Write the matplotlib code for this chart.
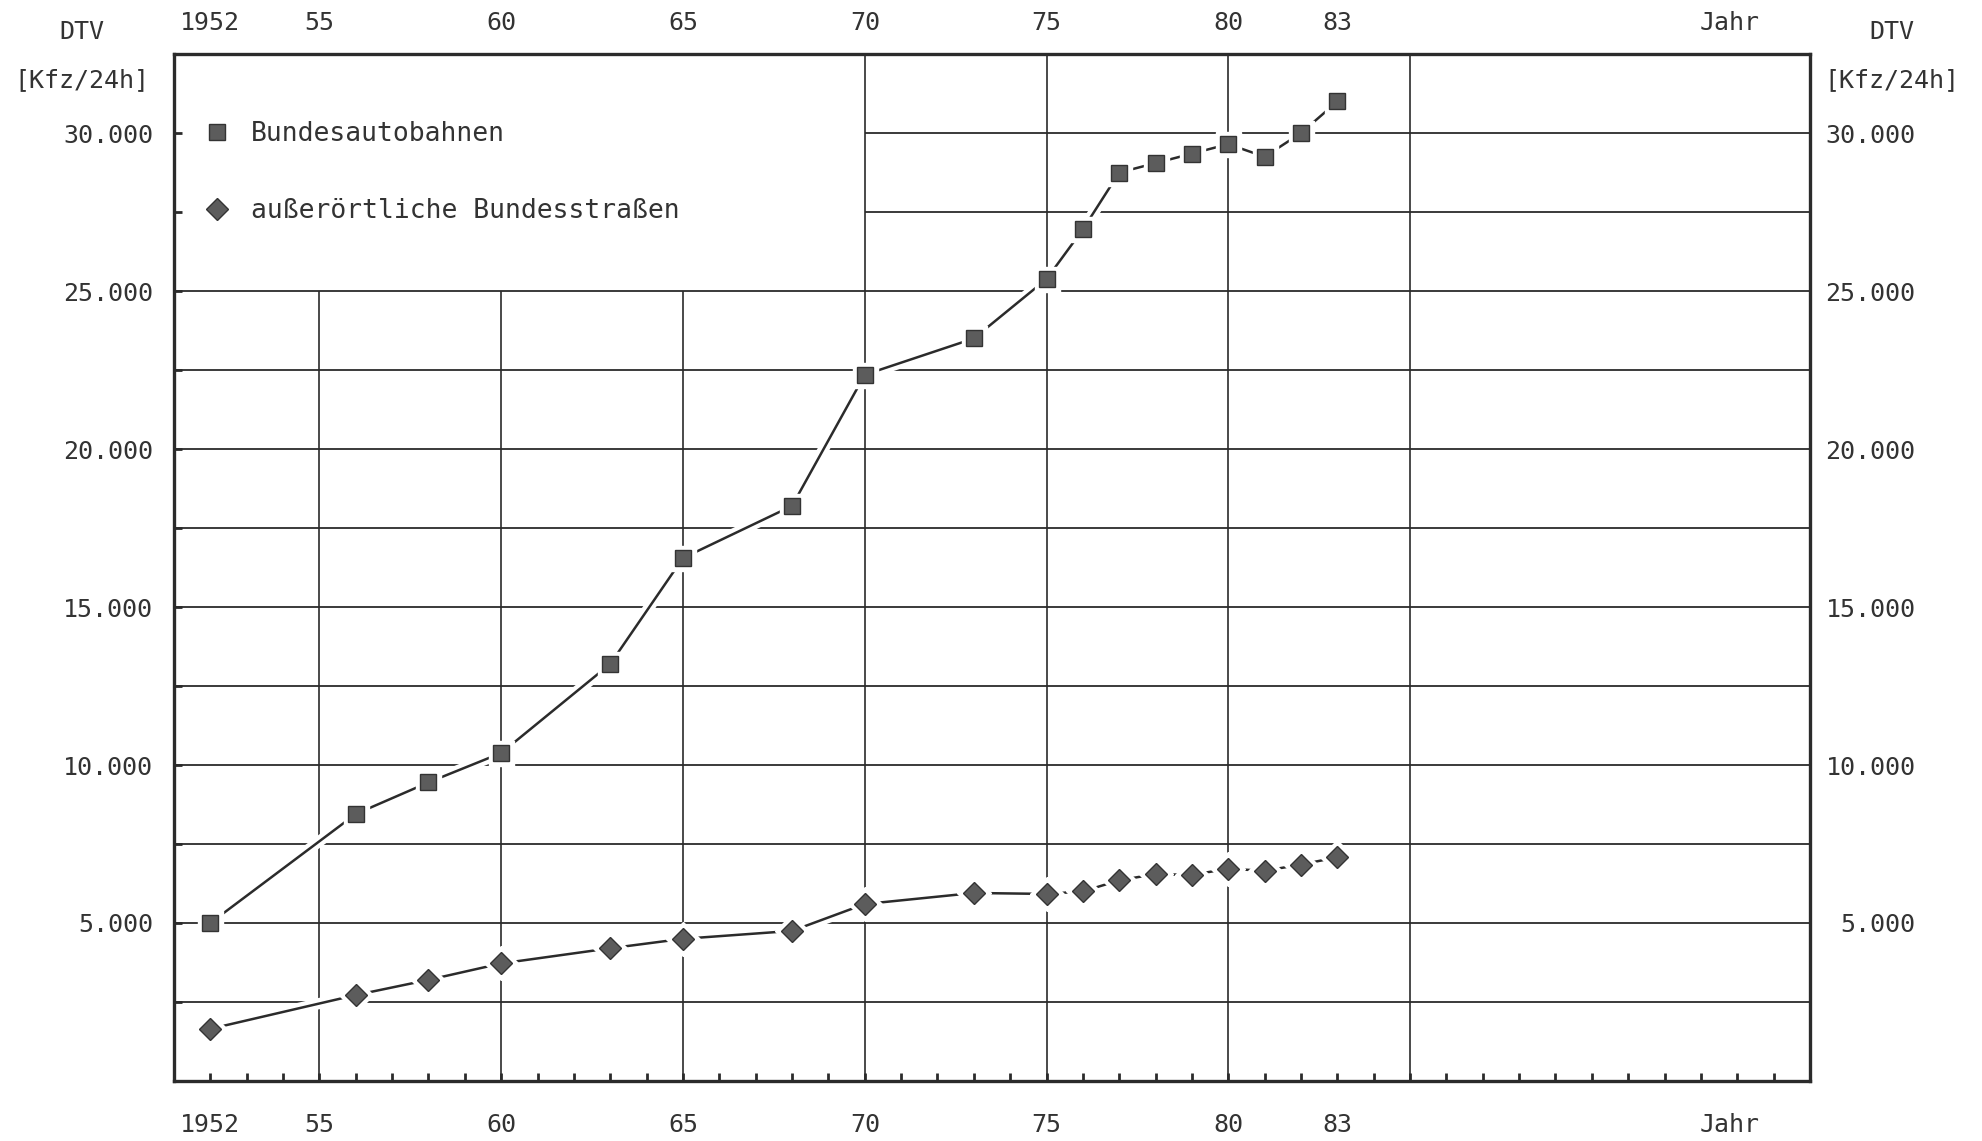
import matplotlib
matplotlib.use("Agg")
import matplotlib.pyplot as plt
import matplotlib.patheffects as pe
from matplotlib.lines import Line2D
from matplotlib.transforms import blended_transform_factory

plt.rcParams['font.family'] = ['DejaVu Sans Mono', 'DejaVu Sans']

# Daten: DTV [Kfz/24h]
jahre = [1952, 1956, 1958, 1960, 1963, 1965, 1968, 1970, 1973, 1975,
         1976, 1977, 1978, 1979, 1980, 1981, 1982, 1983]
autobahn = [5000, 8450, 9450, 10380, 13200, 16550, 18200, 22350, 23500, 25380,
            26950, 28750, 29050, 29350, 29650, 29250, 30000, 31000]
bundesstr = [1650, 2720, 3200, 3720, 4200, 4500, 4750, 5600, 5950, 5920,
             6000, 6350, 6550, 6520, 6720, 6650, 6850, 7080]

x_labels_pos = [1952, 1955, 1960, 1965, 1970, 1975, 1980, 1983]
x_labels = ['1952', '55', '60', '65', '70', '75', '80', '83']
y_labels_pos = [5000, 10000, 15000, 20000, 25000, 30000]
y_labels = ['5.000', '10.000', '15.000', '20.000', '25.000', '30.000']
y_grid = [2500, 5000, 7500, 10000, 12500, 15000, 17500, 20000, 22500, 25000]
y_grid_short = [27500, 30000]
x_grid_short = [1955, 1960, 1965]
x_grid = [1970, 1975, 1980, 1985]

ink = '#2b2b2b'
txt = '#333333'
fs = 18

fig = plt.figure(figsize=(19.82, 11.41), dpi=100)
ax = fig.add_axes([0.0878, 0.0526, 0.8254, 0.900])
ax.set_xlim(1951, 1996)
ax.set_ylim(0, 32500)

# Gitter
ax.hlines(y_grid, 1951, 1996, color=ink, lw=1.3, zorder=1)
ax.hlines(y_grid_short, 1970, 1996, color=ink, lw=1.3, zorder=1)
ax.vlines(x_grid_short, 0, 25000, color=ink, lw=1.2, zorder=1)
ax.vlines(x_grid, 0, 32500, color=ink, lw=1.2, zorder=1)

halo = [pe.Stroke(linewidth=8, foreground='white'), pe.Normal()]
for vals, mk, ms in [(autobahn, 's', 12), (bundesstr, 'D', 11)]:
    ax.plot(jahre, vals, color=ink, lw=1.8, zorder=3, path_effects=halo)
    ax.plot(jahre, vals, ls='none', marker=mk, ms=ms + 6, color='white',
            zorder=4)
    ax.plot(jahre, vals, ls='none', marker=mk, ms=ms, mfc='#5c5c5c',
            mec='#333333', mew=1.0, zorder=5)

# Achsen
for s in ax.spines.values():
    s.set_linewidth(2.4)
    s.set_color(ink)
    s.set_zorder(6)

ax.set_xticks(x_labels_pos, x_labels)
ax.set_xticks(range(1952, 1996), minor=True)
ax.set_yticks(y_labels_pos, y_labels)
ax.set_yticks(y_grid + y_grid_short, minor=True)
ax.tick_params(axis='x', which='both', direction='in', top=True, bottom=True,
               length=6, width=2, color=ink)
ax.tick_params(axis='x', which='major', labelsize=fs, pad=23, labelcolor=txt)
ax.tick_params(axis='y', which='both', direction='in', left=True, right=True,
               length=6, width=2, color=ink)
ax.tick_params(axis='y', which='major', labelsize=fs, pad=15, labelcolor=txt)

top = ax.twiny()
top.set_xlim(ax.get_xlim())
top.set_xticks(x_labels_pos, x_labels)
top.tick_params(axis='x', length=0, labelsize=fs, pad=14, labelcolor=txt)
for s in top.spines.values():
    s.set_visible(False)

right = ax.twinx()
right.set_ylim(ax.get_ylim())
right.set_yticks(y_labels_pos, y_labels)
right.tick_params(axis='y', length=0, labelsize=fs, pad=76, labelcolor=txt)
for lab in right.get_yticklabels():
    lab.set_horizontalalignment('right')
for s in right.spines.values():
    s.set_visible(False)

tr = blended_transform_factory(ax.transData, ax.transAxes)
ax.annotate('Jahr', xy=(1993.8, 1), xycoords=tr, xytext=(0, 14),
            textcoords='offset points', ha='center', va='bottom',
            fontsize=fs, color=txt)
ax.annotate('Jahr', xy=(1993.8, 0), xycoords=tr, xytext=(0, -23),
            textcoords='offset points', ha='center', va='top',
            fontsize=fs, color=txt)

fig.text(0.0414, 0.972, 'DTV', ha='center', va='center', fontsize=fs, color=txt)
fig.text(0.0414, 0.930, '[Kfz/24h]', ha='center', va='center', fontsize=fs, color=txt)
fig.text(0.9546, 0.972, 'DTV', ha='center', va='center', fontsize=fs, color=txt)
fig.text(0.9546, 0.930, '[Kfz/24h]', ha='center', va='center', fontsize=fs, color=txt)

handles = [
    Line2D([], [], ls='none', marker='s', ms=12, mfc='#5c5c5c', mec='#333333'),
    Line2D([], [], ls='none', marker='D', ms=11, mfc='#5c5c5c', mec='#333333'),
]
leg = ax.legend(handles, ['Bundesautobahnen', 'außerörtliche Bundesstraßen'],
                loc='upper left', bbox_to_anchor=(0.018, 0.935), frameon=False,
                fontsize=19, handlelength=1.0, handletextpad=0.8,
                labelspacing=1.95, borderpad=0, borderaxespad=0)
for t in leg.get_texts():
    t.set_color(txt)

fig.savefig('out.png', dpi=100)
